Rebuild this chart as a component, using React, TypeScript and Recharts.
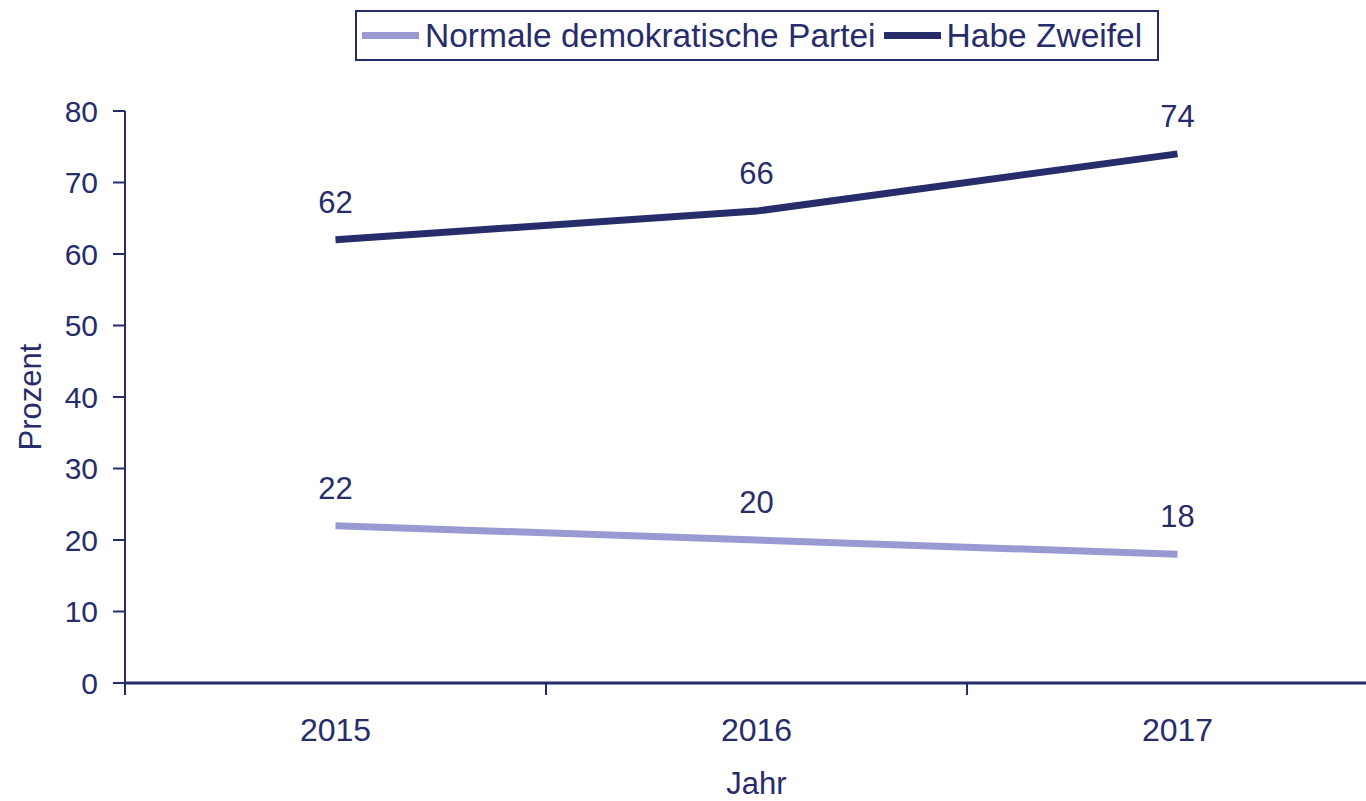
import React from "react";
import { LineChart, Line, XAxis, YAxis, Legend, LabelList } from "recharts";

const years = ["2015", "2016", "2017"];
const normalePartei = [22, 20, 18];
const habeZweifel = [62, 66, 74];
const yTicks = [0, 10, 20, 30, 40, 50, 60, 70, 80];

const NAVY = "#272c6a";
const LIGHT = "#9a9ad2";
const FONT = "'Liberation Sans', Arial, sans-serif";

// categories sit in the middle of each band, tick marks on the band edges
const data = years.map((y, i) => ({
  x: i + 0.5,
  year: y,
  normal: normalePartei[i],
  zweifel: habeZweifel[i],
}));
const xTicks = [0, 0.5, 1, 1.5, 2, 2.5, 3];

const XTick = (props: any) => {
  const { x, y, payload } = props;
  const v = payload.value;
  if (Number.isInteger(v)) {
    if (v === 3) return null;
    return <line x1={x} x2={x} y1={y} y2={y + 12} stroke={NAVY} strokeWidth={2} />;
  }
  return (
    <text x={x} y={y + 47} textAnchor="middle" dominantBaseline="central" fill={NAVY} fontSize={32} fontFamily={FONT}>
      {years[Math.floor(v)]}
    </text>
  );
};

const LegendBox = () => (
  <div
    style={{
      border: `2px solid ${NAVY}`,
      display: "flex",
      alignItems: "center",
      height: 47,
      boxSizing: "content-box",
      padding: "0 15px 0 5px",
      fontFamily: FONT,
      fontSize: 33.5,
      color: NAVY,
      background: "#fff",
      whiteSpace: "nowrap",
    }}
  >
    <span style={{ display: "inline-block", width: 57, height: 7, background: LIGHT, marginRight: 6 }} />
    <span style={{ marginRight: 8 }}>Normale demokratische Partei</span>
    <span style={{ display: "inline-block", width: 57, height: 7, background: NAVY, marginRight: 6 }} />
    <span>Habe Zweifel</span>
  </div>
);

const YLabel = (props: any) => {
  const { viewBox } = props;
  const cx = viewBox.x + 30;
  const cy = viewBox.y + viewBox.height / 2;
  return (
    <text x={cx} y={cy} transform={`rotate(-90 ${cx} ${cy})`} textAnchor="middle" dominantBaseline="central" fill={NAVY} fontSize={31} fontFamily={FONT}>
      Prozent
    </text>
  );
};

export default function App() {
  return (
    <div style={{ position: "absolute", left: 0, top: 0, width: 1366, height: 801, overflow: "hidden", background: "#fff" }}>
      <LineChart width={1400} height={801} data={data} margin={{ top: 60, right: 12, bottom: 0, left: 0 }}>
        <XAxis
          dataKey="x"
          type="number"
          domain={[0, 3]}
          ticks={xTicks}
          interval={0}
          allowDecimals
          tick={<XTick />}
          tickLine={false}
          tickSize={0}
          tickMargin={0}
          height={118}
          axisLine={{ stroke: NAVY, strokeWidth: 3 }}
          label={{ value: "Jahr", position: "insideBottom", offset: 7, fill: NAVY, fontSize: 31, fontFamily: FONT }}
        />
        <YAxis
          domain={[0, 80]}
          ticks={yTicks}
          interval={0}
          width={125}
          tickSize={12}
          tickMargin={15}
          tickLine={{ stroke: NAVY, strokeWidth: 2 }}
          axisLine={{ stroke: NAVY, strokeWidth: 2 }}
          tick={{ fill: NAVY, fontSize: 30, fontFamily: FONT }}
          label={<YLabel />}
        />
        <Legend verticalAlign="top" align="left" wrapperStyle={{ top: 10, left: 355, width: "auto" }} content={<LegendBox />} />
        <Line dataKey="normal" stroke={LIGHT} strokeWidth={7} dot={false} isAnimationActive={false}>
          <LabelList dataKey="normal" position="top" offset={27} fill={NAVY} fontSize={31} fontFamily={FONT} />
        </Line>
        <Line dataKey="zweifel" stroke={NAVY} strokeWidth={7} dot={false} isAnimationActive={false}>
          <LabelList dataKey="zweifel" position="top" offset={27} fill={NAVY} fontSize={31} fontFamily={FONT} />
        </Line>
      </LineChart>
    </div>
  );
}
